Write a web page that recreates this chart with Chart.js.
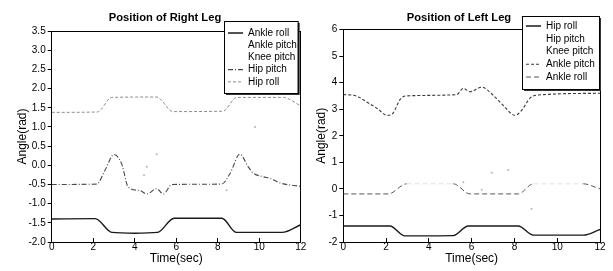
<!DOCTYPE html>
<html><head><meta charset="utf-8">
<script src="https://cdn.jsdelivr.net/npm/chart.js@4"></script>
<style>
html,body{margin:0;padding:0;background:#fff;width:613px;height:271px;overflow:hidden}
.c{position:absolute;top:0;height:271px}
#wL{left:0;width:330px}
#wR{left:305px;width:308px}
</style></head><body>
<div class="c" id="wL"><canvas id="cL" width="330" height="271"></canvas></div>
<div class="c" id="wR"><canvas id="cR" width="308" height="271"></canvas></div>
<script>
// ---------- text ----------
const titleRight = 'Position of Right Leg';
const titleLeft = 'Position of Left Leg';
const xTitle = 'Time(sec)';
const yTitle = 'Angle(rad)';
const rightLegLabels = ['Ankle roll', 'Ankle pitch', 'Knee pitch', 'Hip pitch', 'Hip roll'];
const leftLegLabels = ['Hip roll', 'Hip pitch', 'Knee pitch', 'Ankle pitch', 'Ankle roll'];

// ---------- Right leg (left panel) ----------
const rAnkleRollT = [0, 2.1, 2.9, 4.0, 5.1, 5.9, 8.2, 8.9, 11.1, 12];
const rAnkleRollV = [-1.40, -1.39, -1.75, -1.77, -1.75, -1.38, -1.38, -1.75, -1.75, -1.55];
const rAnklePitchT = [4.45, 4.58, 5.06];
const rAnklePitchV = [-0.26, -0.04, 0.29];
const rKneePitchT = [8.43, 9.8];
const rKneePitchV = [-0.65, 1.0];
const rHipPitchT = [0, 2.17, 2.57, 3.0, 3.37, 3.69, 4.25, 4.58, 5.06, 5.38, 5.8, 8.19, 8.59, 9.07, 9.47, 9.71, 10.2, 10.52, 11.0, 12];
const rHipPitchV = [-0.50, -0.49, -0.13, 0.28, 0.04, -0.57, -0.66, -0.75, -0.61, -0.75, -0.50, -0.49, -0.22, 0.29, -0.04, -0.20, -0.30, -0.34, -0.46, -0.55];
const rHipRollT = [0, 2.2, 2.9, 5.05, 5.85, 8.25, 8.92, 11.15, 12];
const rHipRollV = [1.38, 1.39, 1.77, 1.78, 1.40, 1.41, 1.77, 1.77, 1.55];

// ---------- Left leg (right panel) ----------
const lHipRollT = [0, 2.18, 2.88, 5.14, 5.84, 8.18, 8.88, 11.22, 12];
const lHipRollV = [-1.40, -1.40, -1.77, -1.76, -1.40, -1.40, -1.74, -1.74, -1.53];
const lHipPitchT = [5.61, 6.94, 7.71];
const lHipPitchV = [0.25, 0.61, 0.71];
const lKneePitchT = [6.47, 8.8];
const lKneePitchV = [-0.03, -0.75];
const lAnklePitchT = [0, 0.6, 1.1, 1.6, 2.05, 2.3, 2.65, 2.9, 5.3, 5.61, 5.92, 6.47, 7.0, 7.48, 8.03, 8.34, 8.73, 9.04, 12];
const lAnklePitchV = [3.55, 3.5, 3.27, 3.02, 2.77, 2.83, 3.36, 3.5, 3.55, 3.78, 3.66, 3.83, 3.53, 3.14, 2.77, 2.96, 3.42, 3.53, 3.6];
const lAnkleRollT = [0, 2.1, 2.96, 5.14, 5.93, 8.18, 8.88, 11.22, 12];
const lAnkleRollV = [-0.19, -0.19, 0.19, 0.19, -0.19, -0.19, 0.19, 0.19, 0.0];

// ---------- axes ----------
const xMin = 0, xMax = 12, xStep = 2;
const yRightLeg = {min: -2, max: 3.5, step: 0.5};
const yLeftLeg = {min: -2, max: 6, step: 1};

const FONT = "'Liberation Sans', Arial, sans-serif";

const pts = (t, v) => t.map((x, i) => ({x: x, y: v[i]}));

function lineDs(label, t, v, color, width, dash, extra) {
  return Object.assign({
    label: label, data: pts(t, v), borderColor: color, backgroundColor: color,
    borderWidth: width, borderDash: dash, pointRadius: 0, fill: false,
    cubicInterpolationMode: 'monotone'
  }, extra || {});
}
function faintDs(label, t, v) {
  return {
    label: label, data: pts(t, v), showLine: false, borderColor: '#ffffff', borderWidth: 0,
    backgroundColor: '#b5b5b5', pointRadius: 1, pointBorderWidth: 0, pointBackgroundColor: '#b5b5b5'
  };
}

const legendBoxPlugin = {
  id: 'legendBox',
  afterLayout(chart, args, o) {
    const lg = chart.legend; if (!lg) return;
    const ca = chart.chartArea;
    const bx = ca.right - o.fromRight, by = ca.top - o.aboveTop;
    const pad = lg.options.labels.padding;
    lg.left = bx + o.inX - pad; lg.top = by + o.inY - pad;
    lg.width = 200; lg.height = 200;
    lg.right = lg.left + 200; lg.bottom = lg.top + 200;
    if (lg.adjustHitBoxes) lg.adjustHitBoxes();
  },
  afterDraw(chart, args, o) {
    const lg = chart.legend; const ca = chart.chartArea; const ctx = chart.ctx;
    const bx = Math.round(ca.right - o.fromRight), by = Math.round(ca.top - o.aboveTop);
    ctx.save();
    ctx.fillStyle = '#333';
    ctx.fillRect(bx + o.shadow, by + o.shadow, o.w, o.h);
    ctx.fillStyle = '#fff';
    ctx.fillRect(bx, by, o.w, o.h);
    ctx.strokeStyle = '#000'; ctx.lineWidth = 1;
    ctx.strokeRect(bx + 0.5, by + 0.5, o.w, o.h);
    ctx.restore();
    lg.draw();
  }
};

function makeOptions(cfg) {
  const tickFont = {size: 10, family: FONT};
  const titleFont = {size: 12, family: FONT};
  return {
    responsive: false, animation: false, devicePixelRatio: 1,
    layout: {padding: 0},
    plugins: {
      tooltip: {enabled: false},
      title: {display: true, text: cfg.title, color: '#000', align: 'center', fullSize: true,
        font: {size: 11.2, weight: 'bold', family: FONT, lineHeight: 1.2},
        padding: {top: 11, bottom: cfg.titlePadB}},
      legend: {
        display: true, position: 'chartArea', align: 'start',
        labels: {
          usePointStyle: true, pointStyle: 'line', pointStyleWidth: 15, boxHeight: 6,
          padding: cfg.legPad, color: '#000', font: {size: 10, family: FONT},
          generateLabels: (chart) => chart.data.datasets.map((ds, i) => ({
            text: ds.label, fillStyle: 'rgba(0,0,0,0)', strokeStyle: ds.borderColor,
            lineWidth: ds.showLine === false ? 0 : ds.borderWidth,
            lineDash: ds.borderDash || [], lineCap: 'butt', pointStyle: 'line',
            hidden: false, datasetIndex: i, fontColor: '#000'
          }))
        }
      },
      legendBox: cfg.box
    },
    scales: {
      x: {type: 'linear', position: 'bottom', min: xMin, max: xMax,
        afterFit: s => { s.height = 29; },
        ticks: {stepSize: xStep, color: '#000', font: tickFont, padding: 3.3, maxRotation: 0, autoSkip: false},
        grid: {display: true, drawOnChartArea: false, drawTicks: true, tickLength: -4, tickColor: '#000', color: '#000'},
        border: {display: true, color: '#000', width: 1},
        title: {display: true, text: xTitle, color: '#000', font: titleFont, padding: {top: 0, bottom: 5.5}}},
      x2: {type: 'linear', position: 'top', min: 0, max: 1,
        afterFit: s => { s.height = 0; },
        ticks: {display: false}, grid: {display: false, drawTicks: false},
        border: {display: true, color: '#000', width: 1}},
      y: {type: 'linear', position: 'left', min: cfg.y.min, max: cfg.y.max,
        afterFit: s => { s.width = cfg.yW; },
        ticks: {stepSize: cfg.y.step, color: '#000', font: tickFont, padding: 2,
          callback: v => cfg.y.step < 1 ? Number(v).toFixed(1) : String(Math.round(v))},
        grid: {display: true, drawOnChartArea: false, drawTicks: true, tickLength: 4, tickColor: '#000', color: '#000'},
        border: {display: true, color: '#000', width: 1},
        title: {display: true, text: yTitle, color: '#000', font: titleFont, padding: {top: cfg.yTitlePad, bottom: 0}}},
      y2: {type: 'linear', position: 'right', min: 0, max: 1,
        afterFit: s => { s.width = cfg.y2W; },
        ticks: {display: false}, grid: {display: false, drawTicks: false},
        border: {display: true, color: '#000', width: 1}}
    }
  };
}

// ---------- left panel: Right Leg ----------
new Chart(document.getElementById('cL'), {
  type: 'line',
  data: {datasets: [
    lineDs(rightLegLabels[0], rAnkleRollT, rAnkleRollV, '#1a1a1a', 1.4, []),
    faintDs(rightLegLabels[1], rAnklePitchT, rAnklePitchV),
    faintDs(rightLegLabels[2], rKneePitchT, rKneePitchV),
    lineDs(rightLegLabels[3], rHipPitchT, rHipPitchV, '#4a4a4a', 1.1, [5, 2, 1, 2]),
    lineDs(rightLegLabels[4], rHipRollT, rHipRollV, '#8c8c8c', 1, [3, 2])
  ]},
  options: makeOptions({
    title: titleRight, titlePadB: 6.6, y: yRightLeg, yW: 51.7, y2W: 29.3, yTitlePad: 15, legPad: 2.2,
    box: {fromRight: 76.7, aboveTop: 10, w: 73.7, h: 72, inX: 4, inY: 7, shadow: 2}
  }),
  plugins: [legendBoxPlugin]
});

// ---------- right panel: Left Leg ----------
new Chart(document.getElementById('cR'), {
  type: 'line',
  data: {datasets: [
    lineDs(leftLegLabels[0], lHipRollT, lHipRollV, '#1a1a1a', 1.4, []),
    faintDs(leftLegLabels[1], lHipPitchT, lHipPitchV),
    faintDs(leftLegLabels[2], lKneePitchT, lKneePitchV),
    lineDs(leftLegLabels[3], lAnklePitchT, lAnklePitchV, '#3a3a3a', 1.1, [3, 2]),
    lineDs(leftLegLabels[4], lAnkleRollT, lAnkleRollV, '#555555', 1, [5, 3], {
      segment: {borderColor: c => (c.p0.parsed.y > 0.1 && c.p1.parsed.y > 0.1) ? '#e2e2e2' : undefined}
    })
  ]},
  options: makeOptions({
    title: titleLeft, titlePadB: 5.1, y: yLeftLeg, yW: 38.3, y2W: 13, yTitlePad: 9.5, legPad: 2.75,
    box: {fromRight: 78.3, aboveTop: 13.5, w: 77, h: 73, inX: 4.3, inY: 5, shadow: 2}
  }),
  plugins: [legendBoxPlugin]
});
</script>
</body></html>
